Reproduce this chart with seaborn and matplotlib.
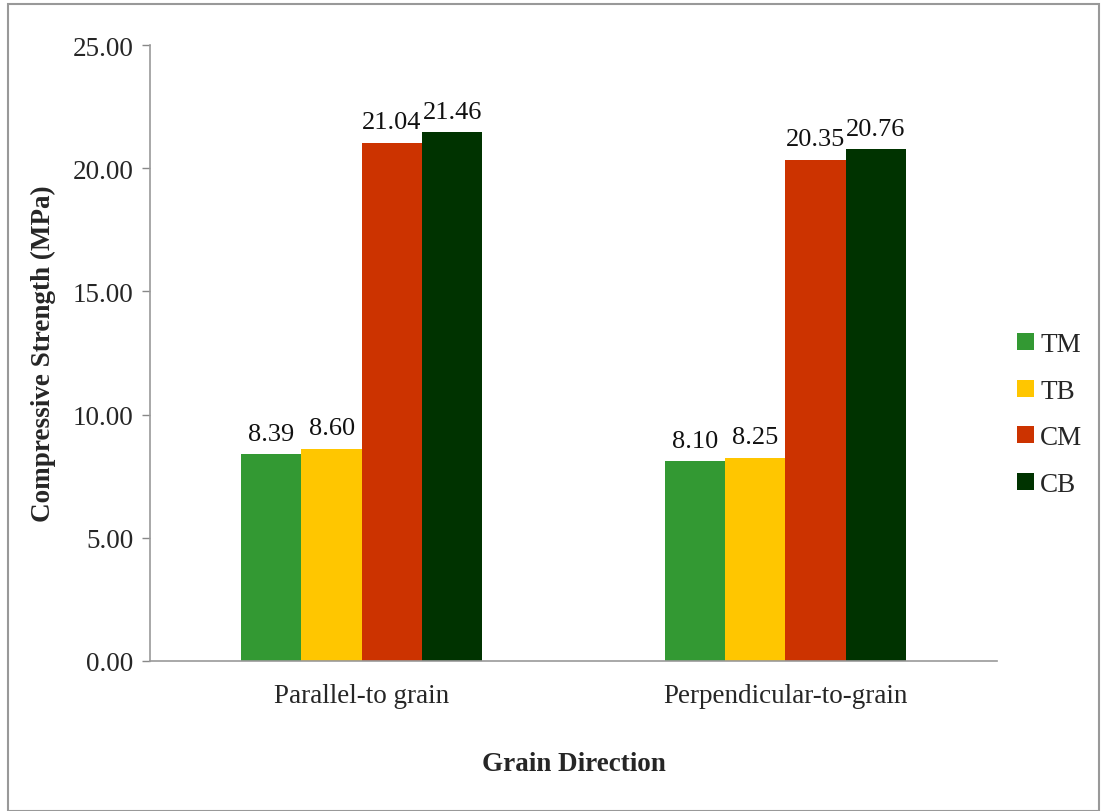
import matplotlib
matplotlib.use("Agg")
import matplotlib.pyplot as plt
import seaborn as sns
import pandas as pd
from matplotlib.patches import Rectangle

directions = ["Parallel-to grain", "Perpendicular-to-grain"]
series = ["TM", "TB", "CM", "CB"]
tm = [8.39, 8.10]
tb = [8.60, 8.25]
cm = [21.04, 20.35]
cb = [21.46, 20.76]
y_ticks = [0, 5, 10, 15, 20, 25]

colors = ["#339933", "#FFC600", "#CC3300", "#003300"]

rows = []
for name, vals in zip(series, [tm, tb, cm, cb]):
    for d, v in zip(directions, vals):
        rows.append({"Direction": d, "Series": name, "Value": v})
df = pd.DataFrame(rows)

sns.set_theme(style="white")
plt.rcParams["font.family"] = ["Liberation Serif", "DejaVu Serif"]

FS = 19.5

fig = plt.figure(figsize=(11.01, 8.12), dpi=100)
ax = fig.add_axes([150 / 1101, 1 - 662 / 812, 847 / 1101, 616 / 812])

sns.barplot(data=df, x="Direction", y="Value", hue="Series", order=directions,
            hue_order=series, palette=colors, width=0.57, saturation=1,
            errorbar=None, ax=ax, linewidth=0)

for container in ax.containers:
    ax.bar_label(container, fmt="%.2f", padding=7, fontsize=19, color="#111111")

ax.set_ylim(0, 25)
ax.set_xlim(-0.5, 1.5)
ax.set_yticks(y_ticks)
ax.set_yticklabels([f"{t:.2f}" for t in y_ticks], fontsize=FS)
ax.tick_params(axis="y", left=True, length=6, width=1, color="#888888", pad=6)
ax.tick_params(axis="x", bottom=False, labelsize=FS, pad=10)
for s in ["top", "right"]:
    ax.spines[s].set_visible(False)
for s in ["left", "bottom"]:
    ax.spines[s].set_color("#999999")
    ax.spines[s].set_linewidth(1.2)

ax.set_ylabel("Compressive Strength (MPa)", fontsize=FS, fontweight="bold", labelpad=12)
ax.set_xlabel("Grain Direction", fontsize=FS, fontweight="bold", labelpad=31)

leg = ax.legend(loc="center left", bbox_to_anchor=(1.0, 0.40), frameon=False,
                fontsize=FS, handlelength=0.6, handleheight=0.6,
                labelspacing=0.8, handletextpad=0.25, borderaxespad=0.35)

# figure frame
fig.patches.append(Rectangle((8 / 1101, 0), 1 - 10 / 1101, 1 - 5 / 812,
                             transform=fig.transFigure, fill=False,
                             edgecolor="#999999", linewidth=1.5))

fig.savefig("out.png", dpi=100)
